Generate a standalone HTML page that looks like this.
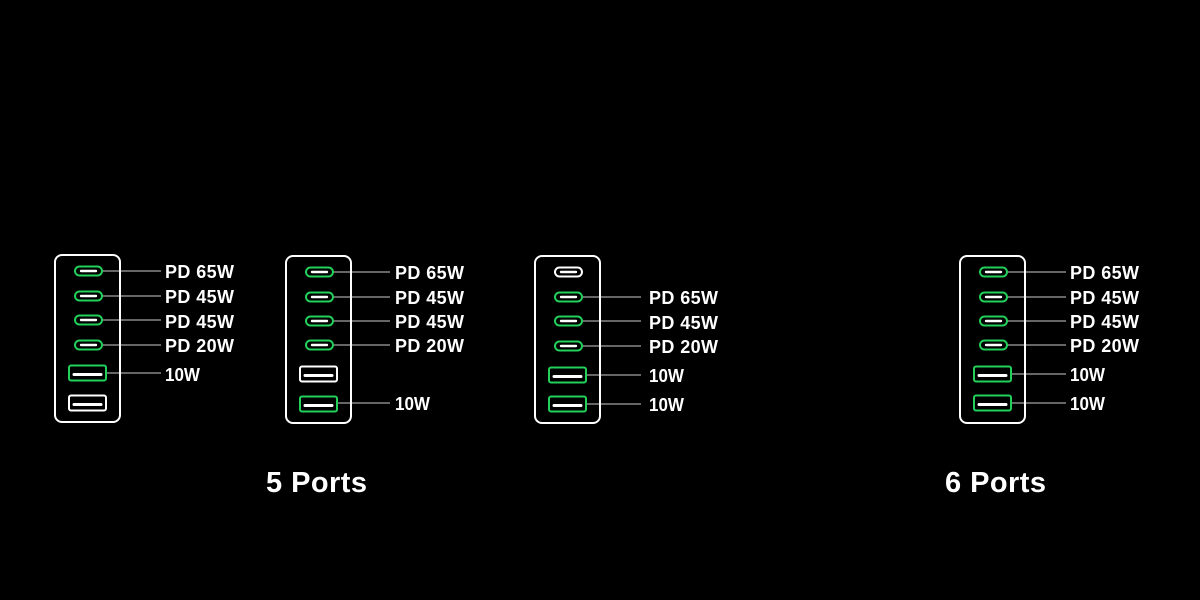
<!DOCTYPE html>
<html><head><meta charset="utf-8"><style>
html,body{margin:0;padding:0;background:#000;width:1200px;height:600px;overflow:hidden}
text{font-family:"Liberation Sans",sans-serif;font-weight:bold;fill:#fff}
</style></head><body>
<svg width="1200" height="600" viewBox="0 0 1200 600">
<defs>
<g id="cg"><rect x="21" y="-4.5" width="27" height="9" rx="4.5" fill="none" stroke="#22d05a" stroke-width="2"/><line x1="27" y1="0" x2="42" y2="0" stroke="#fff" stroke-width="2.4" stroke-linecap="round"/></g>
<g id="cw"><rect x="21" y="-4.5" width="27" height="9" rx="4.5" fill="none" stroke="#fff" stroke-width="2"/><line x1="27" y1="0" x2="42" y2="0" stroke="#fff" stroke-width="2.4" stroke-linecap="round"/></g>
<g id="ag"><rect x="15" y="-7.5" width="37" height="15" rx="2" fill="none" stroke="#22d05a" stroke-width="2"/><line x1="20" y1="1.5" x2="47" y2="1.5" stroke="#fff" stroke-width="3" stroke-linecap="round"/></g>
<g id="aw"><rect x="15" y="-7.5" width="37" height="15" rx="2" fill="none" stroke="#fff" stroke-width="2"/><line x1="20" y1="1.5" x2="47" y2="1.5" stroke="#fff" stroke-width="3" stroke-linecap="round"/></g>
</defs>
<g stroke="#888" stroke-width="1.5">
<line x1="102" y1="271" x2="161" y2="271"/><line x1="102" y1="296" x2="161" y2="296"/><line x1="102" y1="320" x2="161" y2="320"/><line x1="102" y1="345" x2="161" y2="345"/><line x1="106" y1="373" x2="161" y2="373"/>
<line x1="333" y1="272" x2="390" y2="272"/><line x1="333" y1="297" x2="390" y2="297"/><line x1="333" y1="321" x2="390" y2="321"/><line x1="333" y1="345" x2="390" y2="345"/><line x1="337" y1="403" x2="390" y2="403"/>
<line x1="582" y1="297" x2="641" y2="297"/><line x1="582" y1="321" x2="641" y2="321"/><line x1="582" y1="346" x2="641" y2="346"/><line x1="586" y1="375" x2="641" y2="375"/><line x1="586" y1="404" x2="641" y2="404"/>
<line x1="1007" y1="272" x2="1066" y2="272"/><line x1="1007" y1="297" x2="1066" y2="297"/><line x1="1007" y1="321" x2="1066" y2="321"/><line x1="1007" y1="345" x2="1066" y2="345"/><line x1="1011" y1="374" x2="1066" y2="374"/><line x1="1011" y1="403" x2="1066" y2="403"/>
</g>
<g fill="none" stroke="#fff" stroke-width="2">
<rect x="55" y="255" width="65" height="167" rx="7"/>
<rect x="286" y="256" width="65" height="167" rx="7"/>
<rect x="535" y="256" width="65" height="167" rx="7"/>
<rect x="960" y="256" width="65" height="167" rx="7"/>
</g>
<g transform="translate(54,0)">
<use href="#cg" y="271"/><use href="#cg" y="296"/><use href="#cg" y="320"/><use href="#cg" y="345"/><use href="#ag" y="373"/><use href="#aw" y="403"/>
</g>
<g transform="translate(285,0)">
<use href="#cg" y="272"/><use href="#cg" y="297"/><use href="#cg" y="321"/><use href="#cg" y="345"/><use href="#aw" y="374"/><use href="#ag" y="404"/>
</g>
<g transform="translate(534,0)">
<use href="#cw" y="272"/><use href="#cg" y="297"/><use href="#cg" y="321"/><use href="#cg" y="346"/><use href="#ag" y="375"/><use href="#ag" y="404"/>
</g>
<g transform="translate(959,0)">
<use href="#cg" y="272"/><use href="#cg" y="297"/><use href="#cg" y="321"/><use href="#cg" y="345"/><use href="#ag" y="374"/><use href="#ag" y="403"/>
</g>
<g font-size="18">
<text x="165" y="278" textLength="69" lengthAdjust="spacing">PD 65W</text><text x="165" y="303" textLength="69" lengthAdjust="spacing">PD 45W</text><text x="165" y="328" textLength="69" lengthAdjust="spacing">PD 45W</text><text x="165" y="352" textLength="69" lengthAdjust="spacing">PD 20W</text><text x="165" y="381" textLength="35" lengthAdjust="spacingAndGlyphs">10W</text>
<text x="395" y="279" textLength="69" lengthAdjust="spacing">PD 65W</text><text x="395" y="304" textLength="69" lengthAdjust="spacing">PD 45W</text><text x="395" y="328" textLength="69" lengthAdjust="spacing">PD 45W</text><text x="395" y="352" textLength="69" lengthAdjust="spacing">PD 20W</text><text x="395" y="410" textLength="35" lengthAdjust="spacingAndGlyphs">10W</text>
<text x="649" y="304" textLength="69" lengthAdjust="spacing">PD 65W</text><text x="649" y="329" textLength="69" lengthAdjust="spacing">PD 45W</text><text x="649" y="353" textLength="69" lengthAdjust="spacing">PD 20W</text><text x="649" y="382" textLength="35" lengthAdjust="spacingAndGlyphs">10W</text><text x="649" y="411" textLength="35" lengthAdjust="spacingAndGlyphs">10W</text>
<text x="1070" y="279" textLength="69" lengthAdjust="spacing">PD 65W</text><text x="1070" y="304" textLength="69" lengthAdjust="spacing">PD 45W</text><text x="1070" y="328" textLength="69" lengthAdjust="spacing">PD 45W</text><text x="1070" y="352" textLength="69" lengthAdjust="spacing">PD 20W</text><text x="1070" y="381" textLength="35" lengthAdjust="spacingAndGlyphs">10W</text><text x="1070" y="410" textLength="35" lengthAdjust="spacingAndGlyphs">10W</text>
</g>
<g font-size="29">
<text x="266" y="492" textLength="101" lengthAdjust="spacing">5 Ports</text>
<text x="945" y="492" textLength="101" lengthAdjust="spacing">6 Ports</text>
</g>
</svg>
</body></html>
